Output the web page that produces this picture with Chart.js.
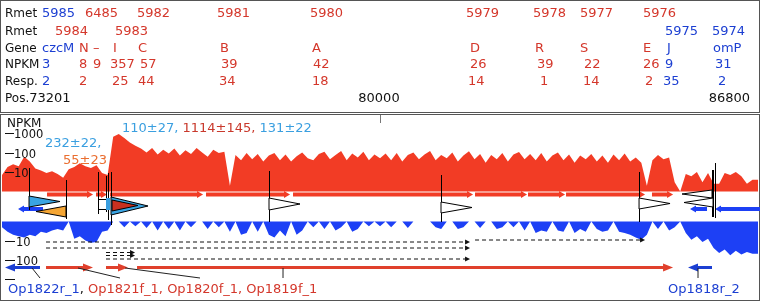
<!DOCTYPE html>
<html lang="en">
<head>
<meta charset="UTF-8">
<meta name="viewport" content="width=device-width, initial-scale=1.0">
<title>czc locus | NPKM coverage</title>
<script src="https://cdn.jsdelivr.net/npm/chart.js"></script>
<style>
  html, body { margin: 0; padding: 0; background: #fff; }
  canvas { display: block; }
</style>
</head>
<body>
<canvas id="locusChart" width="760" height="304"></canvas>
<script>
// ---------- data ----------
const posStart = 73201, posMid = 80000, posEnd = 86800;
const binStart = 73201;
const binSize = 100;

// NPKM coverage per 100 bp bin, forward strand (red) and reverse strand (blue)
const fwdNpkm = [
  7, 18, 25, 20, 60, 35, 15, 12, 9, 11,
  8, 5, 14, 18, 28, 20, 16, 22, 9, 7,
  650, 900, 550, 330, 220, 160, 100, 170, 80, 140,
  90, 160, 70, 130, 85, 170, 100, 60, 140, 95,
  110, 2, 75, 40, 95, 45, 85, 35, 70, 95,
  40, 80, 35, 65, 100, 50, 40, 85, 110, 45,
  75, 120, 40, 90, 55, 110, 40, 80, 50, 90,
  40, 95, 35, 75, 100, 45, 80, 120, 40, 75,
  50, 100, 35, 70, 115, 45, 85, 30, 75, 45,
  95, 35, 80, 105, 45, 85, 40, 95, 35, 70,
  100, 40, 80, 30, 70, 45, 85, 35, 70, 30,
  80, 40, 90, 35, 55, 30, 2, 40, 75, 45,
  55, 3, 1, 8, 6, 10, 3, 9, 2.5, 2.5,
  9, 7, 10, 6, 2.5, 4
];
const revNpkm = [
  2, 3.5, 5, 6, 7, 5, 6, 3.5, 4, 3,
  2.5, 3, 1, 8, 6, 10, 13, 12, 3.5, 3,
  1, 1, 2, 1, 1.8, 1, 2.2, 1, 3, 1,
  2.5, 1, 3, 1, 2, 1, 1, 2.5, 1, 2,
  1, 3.5, 1, 5, 4, 1, 3.5, 1, 5, 7,
  3, 6, 1, 5, 3, 1, 2, 1, 2.5, 1,
  3, 2, 1, 3.5, 2.5, 1, 1.8, 1, 1.8, 1,
  2, 1, 1, 2.2, 1, 1, 1, 1, 2, 2.5,
  1, 1, 2.5, 2, 1, 1, 2.2, 1, 1, 2.5,
  2, 1, 2, 1, 3, 1, 4, 3, 3.5, 1,
  3, 3.5, 1, 4, 2.5, 3.5, 1, 2.5, 3.5, 3,
  1, 3.5, 4, 5, 7, 9, 5, 1, 2.5, 1,
  3, 2, 1, 4, 9, 6, 12, 8, 25, 45,
  30, 60, 35, 55, 40, 50
];
const npkmTicks = [10, 100, 1000];

// top table (strand: f = forward/red, r = reverse/blue)
const rmetRow1 = ['5985', '6485', '5982', '5981', '5980', '5979', '5978', '5977', '5976'];
const rmetRow1Strand = 'rffffffff';
const rmetRow2 = ['5984', '5983', '5975', '5974'];
const rmetRow2Strand = 'ffrr';
const geneNames = ['czcM', 'N', '–', 'I', 'C', 'B', 'A', 'D', 'R', 'S', 'E', 'J', 'omP'];
const geneStrand = 'rffffffffffrr';
const geneNpkm = ['3', '8', '9', '357', '57', '39', '42', '26', '39', '22', '26', '9', '31'];
const geneResp = ['2', '2', '', '25', '44', '34', '18', '14', '1', '14', '2', '35', '2'];

// annotation features (genomic coordinates)
const fwdGeneStart = [74011, 74892, 75144, 76871, 78436, 81710, 82663, 83347, 84893];
const fwdGeneEnd   = [74838, 75090, 76817, 78382, 81674, 82645, 83329, 84768, 85272];
const revGeneStart = [73489, 85577, 86027];
const revGeneEnd   = [73939, 85883, 86836];

const tssPos  = [73687, 74352, 75162, 78004, 81098, 84660, 85973, 85991];
const tssDir  = [1, -1, 1, 1, 1, 1, -1, -1];
const tssFill = ['#3aa5e3', '#f4a533', '#3aa5e3', '#ffffff', '#ffffff', '#ffffff', '#ffffff', '#ffffff'];
const extraLinePos = [74928, 75072, 75108, 86027];

const txStart = [73993, 81710, 73993, 75072, 75072, 75072];
const txEnd   = [81620, 84768, 81620, 75594, 75594, 81620];

const opNames  = ['Op1822r_1', 'Op1821f_1', 'Op1820f_1', 'Op1819f_1', 'Op1818r_2'];
const opStart  = [73255, 73993, 75072, 75630, 85541];
const opEnd    = [73885, 74838, 75468, 85272, 85973];
const opStrand = 'rfffr';
const opAnchor = [73741, 74568, 75414, 78256, 85721];

// ---------- styles / layout ----------
const RED_TXT = '#d4372b', BLUE_TXT = '#1c3fd2';
const COV_RED = '#f23c25', COV_BLUE = '#1d40f5';
const LIGHT_BLUE = '#3a9fe0', ORANGE_TXT = '#ea6e30', DARK_RED = '#c9392c';
const F13 = '13px "DejaVu Sans"';
const F12 = '12px "DejaVu Sans"';
const F11 = '11.5px "DejaVu Sans"';
const strandColor = s => (s === 'r' ? BLUE_TXT : RED_TXT);

const rowBase = [17, 35, 52, 68, 85, 102];
const rmetRow1X = [42, 85, 137, 217, 310, 466, 533, 580, 643];
const rmetRow2X = [55, 115, 665, 712];
const geneX = [42, 79, 93, 113, 138, 220, 312, 470, 535, 580, 643, 667, 713];
const npkmX = [42, 79, 93, 110, 140, 221, 313, 470, 537, 584, 643, 665, 715];
const respX = [42, 79, 0, 112, 138, 219, 312, 468, 540, 583, 645, 663, 718];

const tssLayout = [
  { yc: 201.5, h: 11, len: 31, top: 168, bot: 210 },
  { yc: 211.5, h: 11, len: 30, top: 180, bot: 219 },
  { yc: 206, h: 18, len: 37, top: 172, bot: 225 },
  { yc: 204, h: 12, len: 31, top: 171, bot: 222 },
  { yc: 207.5, h: 11, len: 31, top: 175, bot: 222 },
  { yc: 203.5, h: 11, len: 31, top: 172, bot: 222 },
  { yc: 194, h: 8, len: 30, top: 170, bot: 217 },
  { yc: 202.5, h: 9, len: 29, top: 170, bot: 217 }
];
const extraLineLayout = [[172, 214], [176, 212], [173, 220], [163, 218]];
const txRowY = [242, 240, 248, 252.5, 255.5, 259];
const opLabelX = [40, 120, 200, 283, 698];

function put(ctx, s, x, y, color, font, align) {
  ctx.font = font || F13;
  ctx.fillStyle = color;
  ctx.textAlign = align || 'left';
  ctx.textBaseline = 'alphabetic';
  ctx.fillText(s, x, y);
}

function putRuns(ctx, runs, x, y, font) {
  let cx = x;
  runs.forEach(([s, c]) => {
    put(ctx, s, cx, y, c, font);
    cx += ctx.measureText(s).width;
  });
  return cx;
}

function geneBar(ctx, x1, x2, yc, dir, color) {
  const head = 6, bh = 4, hh = 7;
  ctx.fillStyle = color;
  ctx.beginPath();
  if (dir > 0) {
    ctx.moveTo(x1, yc - bh / 2); ctx.lineTo(x2 - head, yc - bh / 2); ctx.lineTo(x2 - head, yc - hh / 2);
    ctx.lineTo(x2, yc); ctx.lineTo(x2 - head, yc + hh / 2); ctx.lineTo(x2 - head, yc + bh / 2); ctx.lineTo(x1, yc + bh / 2);
  } else {
    ctx.moveTo(x2, yc - bh / 2); ctx.lineTo(x1 + head, yc - bh / 2); ctx.lineTo(x1 + head, yc - hh / 2);
    ctx.lineTo(x1, yc); ctx.lineTo(x1 + head, yc + hh / 2); ctx.lineTo(x1 + head, yc + bh / 2); ctx.lineTo(x2, yc + bh / 2);
  }
  ctx.closePath();
  ctx.fill();
}

function tri(ctx, x0, yc, dir, len, h, fill) {
  ctx.beginPath();
  ctx.moveTo(x0, yc - h / 2);
  ctx.lineTo(x0 + dir * len, yc);
  ctx.lineTo(x0, yc + h / 2);
  ctx.closePath();
  ctx.fillStyle = fill;
  ctx.fill();
  ctx.strokeStyle = '#000';
  ctx.lineWidth = 1;
  ctx.stroke();
}

function arrow(ctx, x1, x2, y, dir, color, lw, headLen, headH, dash) {
  ctx.save();
  ctx.strokeStyle = color;
  ctx.fillStyle = color;
  ctx.lineWidth = lw;
  if (dash) ctx.setLineDash(dash);
  const tip = dir > 0 ? x2 : x1;
  const tail = dir > 0 ? x1 : x2;
  ctx.beginPath();
  ctx.moveTo(tail, y);
  ctx.lineTo(tip - dir * headLen * 0.7, y);
  ctx.stroke();
  ctx.setLineDash([]);
  ctx.beginPath();
  ctx.moveTo(tip, y);
  ctx.lineTo(tip - dir * headLen, y - headH / 2);
  ctx.lineTo(tip - dir * headLen, y + headH / 2);
  ctx.closePath();
  ctx.fill();
  ctx.restore();
}

function vline(ctx, x, y1, y2, color) {
  ctx.strokeStyle = color || '#000';
  ctx.lineWidth = 1;
  ctx.beginPath();
  ctx.moveTo(Math.round(x) + 0.5, y1);
  ctx.lineTo(Math.round(x) + 0.5, y2);
  ctx.stroke();
}

const locusPlugin = {
  id: 'locus',
  beforeDraw(chart) {
    const ctx = chart.ctx;
    ctx.save();
    ctx.fillStyle = '#fff';
    ctx.fillRect(0, 0, chart.width, chart.height);
    ctx.restore();
  },
  afterDatasetsDraw(chart) {
    const ctx = chart.ctx;
    const sx = chart.scales.x, sf = chart.scales.yFwd, sr = chart.scales.yRev;
    const px = v => sx.getPixelForValue(v);
    ctx.save();

    // ---- top table ----
    ['Rmet', 'Rmet', 'Gene', 'NPKM', 'Resp.'].forEach((s, i) => put(ctx, s, 5, rowBase[i], '#111', F12));
    rmetRow1.forEach((s, i) => put(ctx, s, rmetRow1X[i], rowBase[0], strandColor(rmetRow1Strand[i])));
    rmetRow2.forEach((s, i) => put(ctx, s, rmetRow2X[i], rowBase[1], strandColor(rmetRow2Strand[i])));
    geneNames.forEach((s, i) => put(ctx, s, geneX[i], rowBase[2], strandColor(geneStrand[i])));
    geneNpkm.forEach((s, i) => put(ctx, s, npkmX[i], rowBase[3], strandColor(geneStrand[i])));
    geneResp.forEach((s, i) => { if (s) put(ctx, s, respX[i], rowBase[4], strandColor(geneStrand[i])); });
    let px0 = putRuns(ctx, [['Pos.', '#111']], 5, rowBase[5], F12);
    put(ctx, String(posStart), px0, rowBase[5], '#111');
    put(ctx, String(posMid), px(posMid) - 1, rowBase[5], '#111', F13, 'center');
    put(ctx, String(posEnd), px(posEnd) - 8, rowBase[5], '#111', F13, 'right');

    // ---- frames ----
    ctx.strokeStyle = '#555';
    ctx.lineWidth = 1;
    ctx.strokeRect(0.5, 0.5, 759, 112);
    ctx.strokeRect(0.5, 114.5, 759, 186);
    vline(ctx, px(posMid), 115, 123, '#777');

    // ---- y axis (log NPKM) ----
    put(ctx, 'NPKM', 7, 127, '#111', F12);
    ctx.strokeStyle = '#111';
    npkmTicks.forEach(t => {
      const y = Math.round(sf.getPixelForValue(t)) + 0.5;
      ctx.strokeStyle = '#111';
      ctx.beginPath(); ctx.moveTo(5, y); ctx.lineTo(14, y); ctx.stroke();
      put(ctx, String(t), 14, y + 4, '#111', F11);
    });
    npkmTicks.forEach(t => {
      const y = Math.round(sr.getPixelForValue(t)) + 0.5;
      ctx.strokeStyle = '#111';
      ctx.beginPath(); ctx.moveTo(5, y); ctx.lineTo(15, y); ctx.stroke();
      if (t < 1000) put(ctx, String(t), 16, y + 4, '#111', F11);
    });

    // ---- coverage labels ----
    put(ctx, '232±22,', 45, 147, LIGHT_BLUE);
    put(ctx, '55±23', 63, 164, ORANGE_TXT);
    putRuns(ctx, [['110±27, ', LIGHT_BLUE], ['1114±145, ', DARK_RED], ['131±22', LIGHT_BLUE]], 122, 132);

    // ---- gene bars ----
    fwdGeneStart.forEach((s, i) => geneBar(ctx, px(s), px(fwdGeneEnd[i]), 194.5, 1, COV_RED));
    revGeneStart.forEach((s, i) => geneBar(ctx, px(s), px(revGeneEnd[i]), 209, -1, COV_BLUE));

    // ---- TSS / terminator markers ----
    extraLinePos.forEach((p, i) => vline(ctx, px(p), extraLineLayout[i][0], extraLineLayout[i][1]));
    ctx.strokeStyle = '#000';
    [199.5, 209.5].forEach(y => {
      ctx.beginPath(); ctx.moveTo(px(74928), y); ctx.lineTo(px(75072), y); ctx.stroke();
    });
    ctx.fillStyle = LIGHT_BLUE;
    ctx.fillRect(px(75072), 198, px(75144) - px(75072), 12);
    tssPos.forEach((p, i) => {
      const L = tssLayout[i];
      vline(ctx, px(p), L.top, L.bot);
      tri(ctx, px(p), L.yc, tssDir[i], L.len, L.h, tssFill[i]);
    });
    tri(ctx, px(75180), 205.5, 1, 26, 11, '#c9301f');

    // ---- transcripts (dashed) ----
    txStart.forEach((s, i) => arrow(ctx, px(s), px(txEnd[i]), txRowY[i], 1, '#111', 1, 5, 5, [4, 3]));

    // ---- operons ----
    opStart.forEach((s, i) => {
      const dir = opStrand[i] === 'r' ? -1 : 1;
      const col = opStrand[i] === 'r' ? BLUE_TXT : '#e0402c';
      arrow(ctx, px(s), px(opEnd[i]), 267.5, dir, col, 3, 10, 8);
      ctx.strokeStyle = '#222';
      ctx.lineWidth = 1;
      ctx.beginPath();
      ctx.moveTo(px(opAnchor[i]), 268);
      ctx.lineTo(opLabelX[i], 278);
      ctx.stroke();
    });
    let cx = putRuns(ctx, [[opNames[0], BLUE_TXT], [', ', '#111']], 8, 293);
    putRuns(ctx, [[opNames.slice(1, 4).join(', '), RED_TXT]], cx, 293);
    put(ctx, opNames[4], 668, 293, BLUE_TXT);

    ctx.restore();
  }
};

const fwdPts = fwdNpkm.map((v, i) => ({ x: binStart + i * binSize, y: v }));
fwdPts.push({ x: posEnd, y: fwdNpkm[fwdNpkm.length - 1] });
const revPts = revNpkm.map((v, i) => ({ x: binStart + i * binSize, y: v }));
revPts.push({ x: posEnd, y: revNpkm[revNpkm.length - 1] });

new Chart(document.getElementById('locusChart'), {
  type: 'line',
  data: {
    datasets: [
      {
        label: 'NPKM forward', data: fwdPts, xAxisID: 'x', yAxisID: 'yFwd',
        fill: { value: 1 }, backgroundColor: COV_RED, borderColor: COV_RED,
        borderWidth: 0, pointRadius: 0, tension: 0
      },
      {
        label: 'NPKM reverse', data: revPts, xAxisID: 'x', yAxisID: 'yRev',
        fill: { value: 1 }, backgroundColor: COV_BLUE, borderColor: COV_BLUE,
        borderWidth: 0, pointRadius: 0, tension: 0
      }
    ]
  },
  options: {
    responsive: false,
    animation: false,
    devicePixelRatio: 1,
    layout: { padding: { left: 2, right: 2, top: 0, bottom: 0 } },
    plugins: { legend: { display: false }, tooltip: { enabled: false } },
    scales: {
      x: { type: 'linear', min: posStart, max: posEnd, display: false },
      // 1 NPKM sits at y=191.5, one decade = 19.5 px
      yFwd: { type: 'logarithmic', min: Math.pow(10, -5.7692), max: Math.pow(10, 9.8205), display: false },
      // reverse strand grows downward from y=221.5, one decade = 19 px
      yRev: { type: 'logarithmic', reverse: true, min: Math.pow(10, -11.658), max: Math.pow(10, 4.342), display: false }
    }
  },
  plugins: [locusPlugin]
});
</script>
</body>
</html>
